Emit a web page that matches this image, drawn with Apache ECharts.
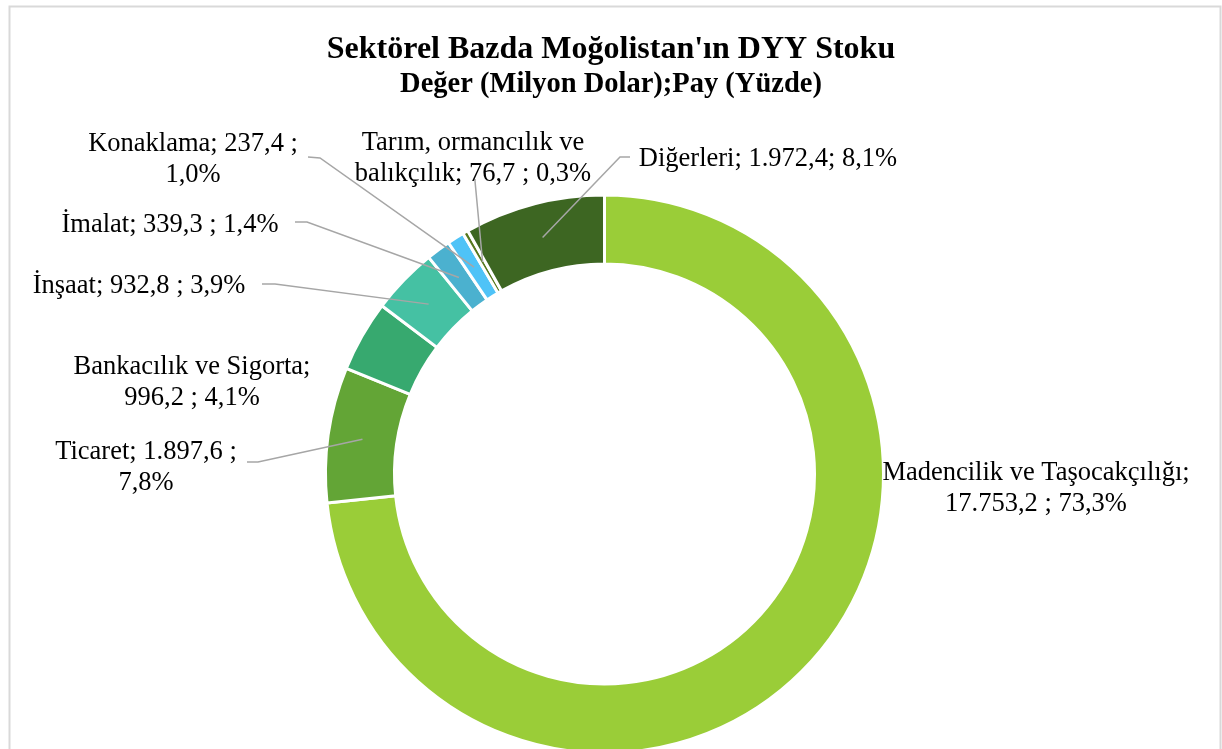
<!DOCTYPE html>
<html>
<head>
<meta charset="utf-8">
<script src="https://cdn.jsdelivr.net/npm/echarts@6/dist/echarts.min.js"></script>
<style>
html,body{margin:0;padding:0;background:#fff;}
#c{width:1222px;height:749px;}
</style>
</head>
<body>
<div id="c"></div>
<script>
// ---- data ----
const sectors = ['Madencilik ve Taşocakçılığı', 'Ticaret', 'Bankacılık ve Sigorta', 'İnşaat', 'İmalat', 'Konaklama', 'Tarım, ormancılık ve balıkçılık', 'Diğerleri'];
const values = [17753.2, 1897.6, 996.2, 932.8, 339.3, 237.4, 76.7, 1972.4];
const colors = ['#9ACD38', '#63A536', '#37A96F', '#45C1A3', '#4BB1CF', '#4FC3F7', '#56781E', '#3D6622'];
// label text templates ({n}=name, {v}=value, {p}=percent)
const labelTemplates = [
  '{n};\n{v} ; {p}%',
  '{n}; {v} ;\n{p}%',
  '{n};\n{v} ; {p}%',
  '{n}; {v} ; {p}%',
  '{n}; {v} ; {p}%',
  '{n}; {v} ;\n{p}%',
  'Tarım, ormancılık ve\nbalıkçılık; {v} ; {p}%',
  '{n}; {v}; {p}%'
];

function trNum(v, d) {
  const s = v.toFixed(d);
  let [i, f] = s.split('.');
  i = i.replace(/\B(?=(\d{3})+(?!\d))/g, '.');
  return f ? i + ',' + f : i;
}

// ---- layout (not data) ----
const CX = 604.5, CY = 474, R_IN = 210, R_OUT = 279;
const labelPos = [
  {x: 1036, y: 489, line: false},
  {x: 146, y: 468, line: true, bend: [258, 462], end: [247, 462]},
  {x: 192, y: 383, line: false},
  {x: 139, y: 286, line: true, bend: [275, 284], end: [262, 284]},
  {x: 170, y: 225, line: true, bend: [307, 222], end: [295, 222]},
  {x: 193, y: 160, line: true, bend: [320, 158], end: [308, 157]},
  {x: 473, y: 159, line: true, bend: [475, 181], end: [475, 179]},
  {x: 768, y: 159, line: true, bend: [620, 157], end: [630, 157]}
];

const total = values.reduce((a, b) => a + b, 0);
const midAngles = [];
{
  let acc = 0;
  values.forEach(v => { midAngles.push((acc + v / 2) / total * 2 * Math.PI); acc += v; });
}

const chart = echarts.init(document.getElementById('c'), null, {renderer: 'canvas'});
const baseSeries = {
  type: 'pie',
  center: [CX, CY],
  radius: [R_IN, R_OUT],
  startAngle: 90,
  clockwise: true,
  avoidLabelOverlap: false
};
const option = {
  backgroundColor: '#fff',
  animation: false,
  title: {
    text: "Sektörel Bazda Moğolistan'ın DYY Stoku",
    subtext: 'Değer (Milyon Dolar);Pay (Yüzde)',
    left: 'center',
    top: 29,
    itemGap: 4,
    textStyle: {fontFamily: 'Liberation Serif', fontWeight: 'bold', fontSize: 32, color: '#000'},
    subtextStyle: {fontFamily: 'Liberation Serif', fontWeight: 'bold', fontSize: 28.5, color: '#000'}
  },
  graphic: [{
    type: 'rect', left: 7, top: 4,
    shape: {width: 1211, height: 800},
    style: {fill: 'none', stroke: '#d9d9d9', lineWidth: 2},
    silent: true
  }],
  series: [
    Object.assign({}, baseSeries, {
      z: 2,
      itemStyle: {borderColor: '#fff', borderWidth: 3},
      label: {show: false},
      labelLine: {show: false},
      data: sectors.map((n, i) => ({name: n, value: values[i], itemStyle: {color: colors[i]}}))
    }),
    Object.assign({}, baseSeries, {
      z: 5,
      silent: true,
      itemStyle: {color: 'rgba(0,0,0,0)', borderWidth: 0},
      label: {
        show: true,
        position: 'outside',
        fontFamily: 'Liberation Serif',
        fontSize: 26.5,
        lineHeight: 31,
        color: '#000',
        align: 'center',
        formatter: function (p) {
          return labelTemplates[p.dataIndex]
            .replace('{n}', p.name)
            .replace('{v}', trNum(p.value, 1))
            .replace('{p}', trNum(p.value / total * 100, 1));
        }
      },
      labelLine: {show: true, lineStyle: {color: '#a6a6a6', width: 1.5}},
      labelLayout: function (params) {
        const i = params.dataIndex;
        const lp = labelPos[i];
        const a = midAngles[i];
        const rm = (R_IN + R_OUT) / 2;
        const anchor = [CX + rm * Math.sin(a), CY - rm * Math.cos(a)];
        const res = {x: lp.x, y: lp.y, align: 'center', verticalAlign: 'middle'};
        if (lp.line) res.labelLinePoints = [anchor, lp.bend, lp.end];
        return res;
      },
      data: sectors.map((n, i) => ({
        name: n,
        value: values[i],
        labelLine: {show: labelPos[i].line}
      }))
    })
  ]
};
chart.setOption(option);
</script>
</body>
</html>
